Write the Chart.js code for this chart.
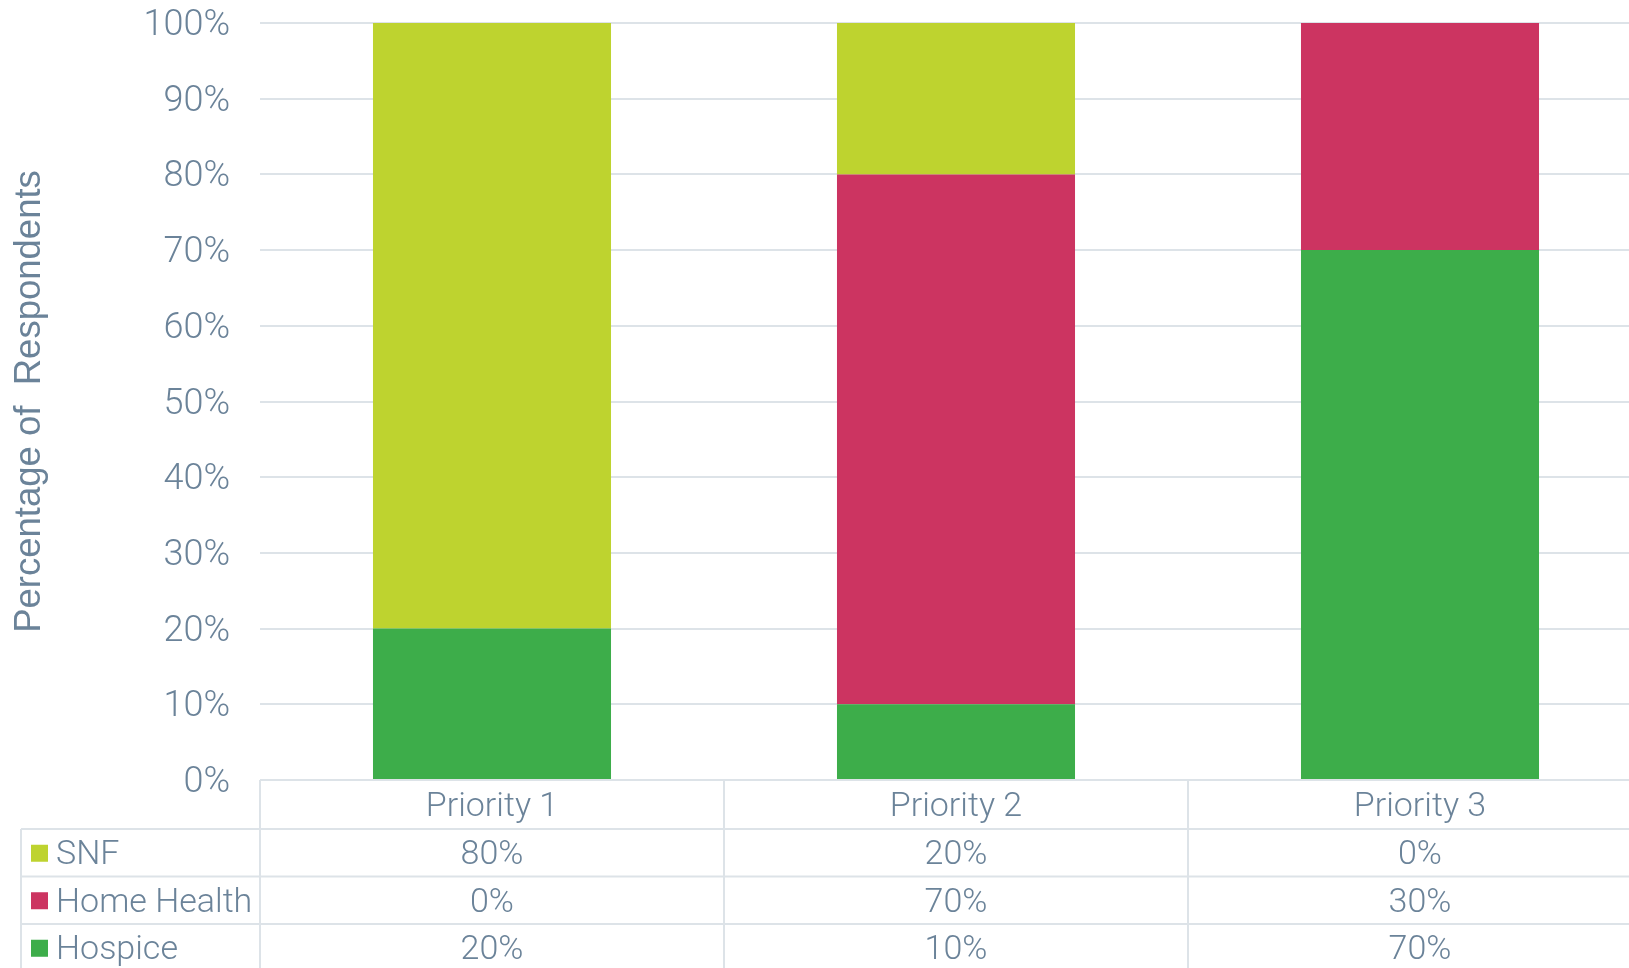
<!DOCTYPE html>
<html>
<head>
<meta charset="utf-8">
<script src="https://cdn.jsdelivr.net/npm/chart.js@4/dist/chart.umd.min.js"></script>
<style>
  html, body { margin: 0; padding: 0; background: #ffffff; overflow: hidden; }
  #wrap { position: relative; width: 1660px; height: 968px; }
</style>
</head>
<body>
<div id="wrap"><canvas id="priorityChart"></canvas></div>
<script>
// Chart data
const categories = ["Priority 1", "Priority 2", "Priority 3"];
const seriesNames = ["SNF", "Home Health", "Hospice"];
const snfValues = [80, 20, 0];
const homeHealthValues = [0, 70, 30];
const hospiceValues = [20, 10, 70];
const yTicks = [0, 10, 20, 30, 40, 50, 60, 70, 80, 90, 100];

const colors = {
  snf: "#bed32f",
  homeHealth: "#cc3461",
  hospice: "#3dad4a",
  text: "#6b8399",
  grid: "#dde3e8",
};

const tickFont = { family: "Roboto", size: 36, weight: "300" };
const tableFont = { family: "Roboto", size: 34, weight: "300" };

// Data table drawn under the plot, like the spreadsheet original
const dataTablePlugin = {
  id: "dataTable",
  afterDraw(chart) {
    const ctx = chart.ctx;
    const area = chart.chartArea;
    const xScale = chart.scales.x;
    const width = chart.width;
    const height = chart.height;
    const colWidth = (area.right - area.left) / categories.length;
    const headerBottom = area.bottom + 49;
    const rowHeight = 47.5;
    const tableLeft = 21;
    const textShift = 3;

    const rows = [
      { name: seriesNames[0], color: colors.snf, values: snfValues },
      { name: seriesNames[1], color: colors.homeHealth, values: homeHealthValues },
      { name: seriesNames[2], color: colors.hospice, values: hospiceValues },
    ];

    ctx.save();
    ctx.strokeStyle = colors.grid;
    ctx.lineWidth = 2;
    ctx.beginPath();
    ctx.moveTo(area.left, area.bottom);
    ctx.lineTo(width, area.bottom);
    for (let r = 0; r < rows.length; r++) {
      const y = headerBottom + r * rowHeight;
      ctx.moveTo(tableLeft, y);
      ctx.lineTo(width, y);
    }
    ctx.moveTo(tableLeft, headerBottom);
    ctx.lineTo(tableLeft, height);
    for (let i = 0; i <= categories.length; i++) {
      const x = area.left + i * colWidth;
      ctx.moveTo(x, area.bottom);
      ctx.lineTo(x, height);
    }
    ctx.stroke();

    ctx.fillStyle = colors.text;
    ctx.font = `${tableFont.weight} ${tableFont.size}px ${tableFont.family}`;
    ctx.textBaseline = "middle";
    ctx.textAlign = "center";
    categories.forEach((cat, i) => {
      ctx.fillText(cat, xScale.getPixelForValue(i), (area.bottom + headerBottom) / 2 + textShift);
    });

    rows.forEach((row, r) => {
      const yMid = headerBottom + r * rowHeight + rowHeight / 2;
      ctx.fillStyle = row.color;
      ctx.fillRect(tableLeft + 10, yMid - 8, 17, 17);
      ctx.fillStyle = colors.text;
      ctx.textAlign = "left";
      ctx.fillText(row.name, tableLeft + 35, yMid + textShift);
      ctx.textAlign = "center";
      row.values.forEach((v, i) => {
        ctx.fillText(v + "%", xScale.getPixelForValue(i), yMid + textShift);
      });
    });
    ctx.restore();
  },
};

const chart = new Chart(document.getElementById("priorityChart"), {
  type: "bar",
  data: {
    labels: categories,
    datasets: [
      { label: seriesNames[2], data: hospiceValues, backgroundColor: colors.hospice },
      { label: seriesNames[1], data: homeHealthValues, backgroundColor: colors.homeHealth },
      { label: seriesNames[0], data: snfValues, backgroundColor: colors.snf },
    ],
  },
  options: {
    responsive: true,
    maintainAspectRatio: false,
    animation: false,
    events: [],
    layout: {
      padding: { top: 23, right: 8, bottom: 188, left: 0 },
    },
    datasets: {
      bar: {
        categoryPercentage: 1,
        barPercentage: 0.513,
      },
    },
    plugins: {
      legend: { display: false },
      tooltip: { enabled: false },
      title: { display: false },
    },
    scales: {
      x: {
        stacked: true,
        display: false,
      },
      y: {
        stacked: true,
        min: 0,
        max: 100,
        afterBuildTicks: (scale) => {
          scale.ticks = yTicks.map((v) => ({ value: v }));
        },
        afterFit: (scale) => {
          scale.width = 260;
          scale.paddingTop = 0;
          scale.paddingBottom = 0;
        },
        border: { display: false },
        grid: {
          color: colors.grid,
          lineWidth: 2,
          drawTicks: false,
        },
        ticks: {
          padding: 30,
          labelOffset: 3,
          color: colors.text,
          font: tickFont,
          callback: (value) => value + "%",
        },
        title: {
          display: true,
          text: "Percentage of  Respondents",
          color: colors.text,
          font: { family: "Liberation Sans", size: 36.5 },
          padding: { top: 8, bottom: 0 },
        },
      },
    },
  },
  plugins: [dataTablePlugin],
});
</script>
</body>
</html>
